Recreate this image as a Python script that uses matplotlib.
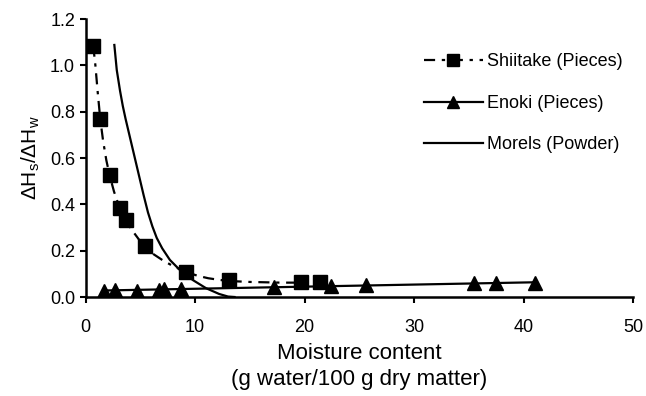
import numpy as np
import matplotlib
matplotlib.use("Agg")
import matplotlib.pyplot as plt

# =========================
# DATA
# =========================
shiitake_x = [0.7, 1.34, 2.2, 3.15, 3.7, 5.45, 9.2, 13.1, 19.7, 21.4]
shiitake_y = [1.085, 0.767, 0.527, 0.383, 0.332, 0.219, 0.109, 0.072, 0.063, 0.066]

# fitted dash-dot curve for shiitake
shiitake_fit_x = [0.7, 0.9, 1.1, 1.34, 1.6, 1.9, 2.2, 2.6, 3.0, 3.4, 3.8, 4.3, 5.0,
                  5.45, 6.2, 7.0, 8.0, 9.2, 10.2, 11.2, 12.2, 13.1, 15.0, 17.8, 19.7, 21.4]
shiitake_fit_y = [1.085, 1.0, 0.89, 0.77, 0.675, 0.59, 0.525, 0.455, 0.4, 0.355, 0.32, 0.285, 0.24,
                  0.22, 0.185, 0.16, 0.133, 0.108, 0.092, 0.081, 0.074, 0.069, 0.065, 0.062, 0.062, 0.063]

enoki_x = [1.7, 2.7, 4.7, 6.7, 7.2, 8.7, 17.2, 22.4, 25.6, 35.5, 37.5, 41.0]
enoki_y = [0.028, 0.030, 0.027, 0.032, 0.033, 0.035, 0.045, 0.047, 0.052, 0.059, 0.059, 0.062]

# morels curve (powder, no markers)
morels_x = [2.63, 2.85, 3.15, 3.4, 3.65, 4.0, 4.4, 4.8, 5.3, 5.7, 6.1, 6.5, 7.0,
            7.7, 8.6, 9.8, 11.0, 12.2, 13.0, 13.6]
morels_y = [1.088, 0.98, 0.89, 0.825, 0.77, 0.70, 0.62, 0.54, 0.44, 0.365, 0.305, 0.255, 0.21,
            0.16, 0.117, 0.073, 0.038, 0.013, 0.002, 0.0]

X_TICKS = [0, 10, 20, 30, 40, 50]
Y_TICKS = [0.0, 0.2, 0.4, 0.6, 0.8, 1.0, 1.2]

# =========================
# STYLE
# =========================
plt.rcParams["font.family"] = ["Liberation Sans", "DejaVu Sans"]
plt.rcParams["mathtext.fontset"] = "custom"
plt.rcParams["mathtext.rm"] = "Liberation Sans"
plt.rcParams["mathtext.default"] = "regular"

fig = plt.figure(figsize=(6.46, 3.96), dpi=100)
ax = fig.add_axes([0.1324, 0.25, 0.848, 0.702])

dashdot = (0, (5, 3, 1.5, 3))

# shiitake: fitted curve + markers
ax.plot(shiitake_fit_x, shiitake_fit_y, color="black", lw=1.6, linestyle=dashdot)
ax.plot(shiitake_x, shiitake_y, linestyle="none", marker="s", ms=10, color="black")

# enoki: linear trend + markers
coef = np.polyfit(enoki_x, enoki_y, 1)
ex = np.array([min(enoki_x), max(enoki_x)])
ax.plot(ex, np.polyval(coef, ex), color="black", lw=1.6)
ax.plot(enoki_x, enoki_y, linestyle="none", marker="^", ms=9.5, color="black")

# morels
ax.plot(morels_x, morels_y, color="black", lw=1.6)

# legend proxies
ax.plot([], [], color="black", lw=1.6, linestyle=dashdot, marker="s", ms=8.5,
        label="Shiitake (Pieces)")
ax.plot([], [], color="black", lw=1.6, marker="^", ms=8.5, label="Enoki (Pieces)")
ax.plot([], [], color="black", lw=1.6, label="Morels (Powder)")
handles, labels = ax.get_legend_handles_labels()
ax.legend(handles[-3:], labels[-3:], loc="upper right", bbox_to_anchor=(1.0, 0.915),
          frameon=False, fontsize=13, handlelength=3.3, handletextpad=0.2,
          labelspacing=1.35, borderaxespad=0.2)

ax.set_xlim(0, 50)
ax.set_ylim(0, 1.2)
ax.set_xticks(X_TICKS)
ax.set_yticks(Y_TICKS)
ax.set_yticklabels([f"{v:.1f}" for v in Y_TICKS])
ax.tick_params(axis="both", labelsize=13, width=1.5, length=4, direction="out")
ax.tick_params(axis="x", pad=12)

for side in ["top", "right"]:
    ax.spines[side].set_visible(False)
for side in ["left", "bottom"]:
    ax.spines[side].set_linewidth(1.8)

ax.set_xlabel("Moisture content\n(g water/100 g dry matter)", fontsize=16,
              linespacing=1.32, labelpad=5)
ax.set_ylabel(r"$\Delta H_s/\Delta H_w$", fontsize=15, labelpad=6)

fig.savefig("out.png", dpi=100)
